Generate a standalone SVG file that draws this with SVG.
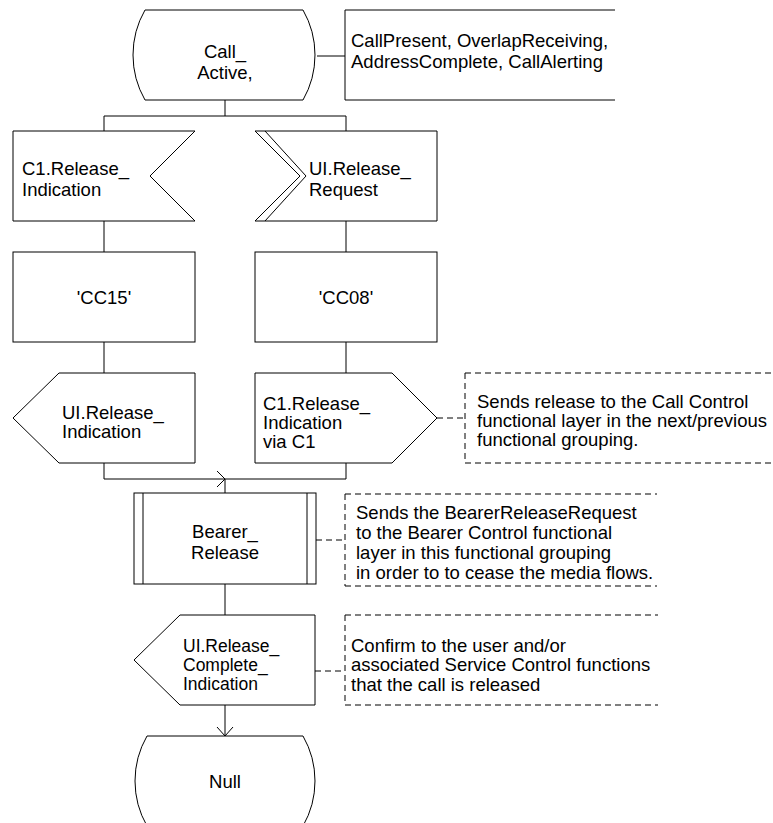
<svg xmlns="http://www.w3.org/2000/svg" width="773" height="823" viewBox="0 0 773 823">
<defs>
<style>
.s{fill:#fff;stroke:#000;stroke-width:1}
.l{fill:none;stroke:#000;stroke-width:1}
.d{fill:none;stroke:#000;stroke-width:1;stroke-dasharray:6 4}
text{font-family:"Liberation Sans",Arial,sans-serif;font-size:18.5px;fill:#000}
.c{text-anchor:middle}
.sm{font-size:17.5px}
</style>
</defs>
<rect width="773" height="823" fill="#fff"/>
<g id="connectors">
<path class="l" d="M317,56 H345"/>
<path class="l" d="M225,100 V116 M104,116 H346 M104,116 V131 M346,116 V131"/>
<path class="l" d="M104,221 V252 M346,221 V252"/>
<path class="l" d="M104,342 V373 M346,342 V373"/>
<path class="l" d="M104,463 V479 H346 V463"/>
<path class="l" d="M217,471 L225,479 L217,487"/>
<path class="l" d="M225,479 V493"/>
<path class="l" d="M225,584 V615"/>
<path class="l" d="M225,705 V736 M217,727 L225,736 L233,727"/>
<path class="d" d="M437,418 H465"/>
<path class="d" d="M316,540 H345"/>
<path class="d" d="M315,671 H345"/>
</g>
<g id="state_call_active">
<path class="s" d="M145,10 H303 A90.4,90.4 0 0 1 303,100 H145 A90.4,90.4 0 0 1 145,10 Z"/>
<text class="c" x="225" y="58">Call_</text>
<text class="c" x="225" y="79">Active,</text>
</g>
<g id="state_list">
<path class="l" d="M615,10 H345 V100 H615"/>
<text x="351" y="47">CallPresent, OverlapReceiving,</text>
<text x="351" y="68">AddressComplete, CallAlerting</text>
</g>
<g id="input_c1_release_indication">
<polygon class="s" points="13,131 195,131 150,176 195,221 13,221"/>
<text x="22" y="175">C1.Release_</text>
<text x="22" y="196">Indication</text>
</g>
<g id="input_ui_release_request">
<polygon class="s" points="255,131 437,131 437,221 255,221 300,176"/>
<polyline class="l" points="265,131 306,176 265,221"/>
<text x="309" y="175">UI.Release_</text>
<text x="309" y="196">Request</text>
</g>
<g id="task_cc15">
<rect class="s" x="13" y="252" width="182" height="90"/>
<text class="c" x="104" y="304">'CC15'</text>
</g>
<g id="task_cc08">
<rect class="s" x="255" y="252" width="182" height="90"/>
<text class="c" x="346" y="304">'CC08'</text>
</g>
<g id="output_ui_release_indication">
<polygon class="s" points="59,373 195,373 195,463 59,463 13,418"/>
<text x="62" y="419">UI.Release_</text>
<text x="62" y="438">Indication</text>
</g>
<g id="output_c1_release_indication">
<polygon class="s" points="255,373 392,373 437,418 392,463 255,463"/>
<text x="263" y="410">C1.Release_</text>
<text x="263" y="429">Indication</text>
<text x="263" y="448">via C1</text>
</g>
<g id="comment_1">
<path class="d" d="M465,373 H773 M465,463 H773 M465,373 V463"/>
<text x="477" y="408">Sends release to the Call Control</text>
<text x="477" y="427">functional layer in the next/previous</text>
<text x="477" y="446">functional grouping.</text>
</g>
<g id="proc_bearer_release">
<rect class="s" x="134" y="493" width="182" height="91"/>
<path class="l" d="M143,493 V584 M307,493 V584"/>
<text class="c" x="225" y="538">Bearer_</text>
<text class="c" x="225" y="559">Release</text>
</g>
<g id="comment_2">
<path class="d" d="M345,494 H657 M345,586 H657 M345,494 V586"/>
<text x="356" y="519">Sends the BearerReleaseRequest</text>
<text x="356" y="539">to the Bearer Control functional</text>
<text x="356" y="559">layer in this functional grouping</text>
<text x="356" y="579">in order to to cease the media flows.</text>
</g>
<g id="output_ui_release_complete_indication">
<polygon class="s" points="180,615 315,615 315,705 180,705 134,660"/>
<text class="sm" x="183" y="652">UI.Release_</text>
<text class="sm" x="183" y="671">Complete_</text>
<text class="sm" x="183" y="690">Indication</text>
</g>
<g id="comment_3">
<path class="d" d="M345,615 H658 M345,705 H658 M345,615 V705"/>
<text x="351" y="652">Confirm to the user and/or</text>
<text x="351" y="671">associated Service Control functions</text>
<text x="351" y="691">that the call is released</text>
</g>
<g id="state_null">
<path class="s" d="M147,736 H303 A90.4,90.4 0 0 1 303,826 H147 A90.4,90.4 0 0 1 147,736 Z"/>
<text class="c" x="225" y="788">Null</text>
</g>
</svg>
